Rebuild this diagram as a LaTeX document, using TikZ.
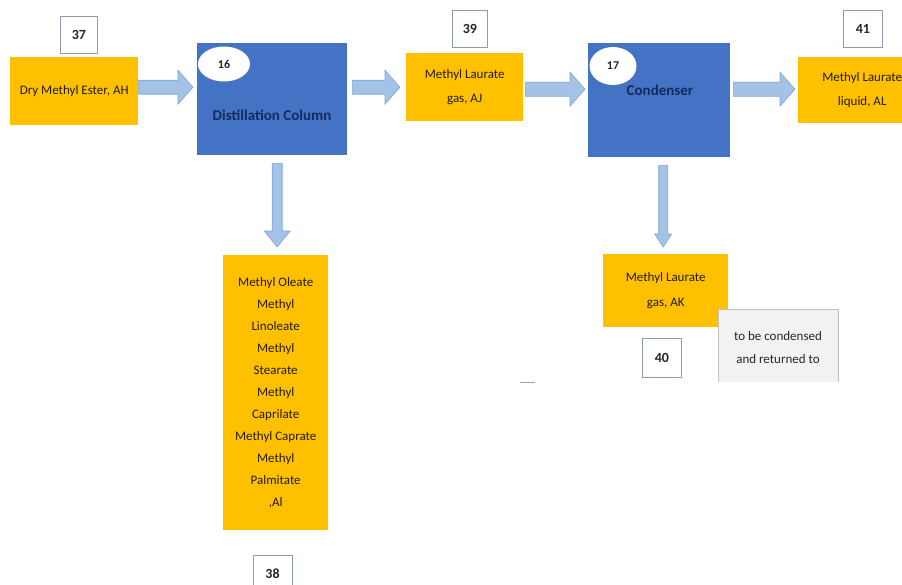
\documentclass[tikz,border=0pt]{standalone}
\usepackage{fontspec}
\setmainfont{Carlito}
\usetikzlibrary{calc,shapes.geometric}
\definecolor{orng}{HTML}{FFC000}
\definecolor{blu}{HTML}{4472C4}
\definecolor{navy}{HTML}{142B5C}
\definecolor{otext}{HTML}{241D00}
\definecolor{afill}{HTML}{A3C2E6}
\definecolor{aline}{HTML}{7FA6D6}
\definecolor{numline}{HTML}{8C9DB5}
\tikzset{
  obox/.style={fill=orng, draw=none, inner sep=0pt, anchor=north west, align=center,
    text=otext, font=\fontsize{13}{24}\selectfont},
  bbox/.style={fill=blu, draw=none, inner sep=0pt, anchor=north west},
  numbox/.style={fill=white, draw=numline, line width=0.8pt, inner sep=0pt, anchor=north west,
    minimum width=37pt, minimum height=37pt, font=\fontsize{14}{16}\selectfont\bfseries, text=black!85},
  bubble/.style={ellipse, fill=white, draw=none, inner sep=0pt, font=\fontsize{12}{14}\selectfont\bfseries, text=black!85},
  btext/.style={text=navy, font=\fontsize{15}{17}\selectfont\bfseries},
  blockarr/.style={fill=afill, draw=aline, line width=0.6pt, line join=miter},
}
\newcommand{\harrow}[2]{%
  \path[blockarr] let \p1=(#1), \p2=(#2) in
    (\x1,\y1+7pt) -- (\x2-15pt,\y1+7pt) -- (\x2-15pt,\y1+17pt) -- (\x2,\y1)
    -- (\x2-15pt,\y1-17pt) -- (\x2-15pt,\y1-7pt) -- (\x1,\y1-7pt) -- cycle;}
\newcommand{\varrow}[5]{%
  \path[blockarr] let \p1=(#1), \p2=(#2) in
    (\x1-#3,\y1) -- (\x1-#3,\y2+#5) -- (\x1-#4,\y2+#5) -- (\x1,\y2)
    -- (\x1+#4,\y2+#5) -- (\x1+#3,\y2+#5) -- (\x1+#3,\y1) -- cycle;}
\begin{document}
\begin{tikzpicture}[x=1pt,y=-1pt]
\useasboundingbox (0,0) rectangle (902,584);

% process units
\node[bbox, minimum width=150pt, minimum height=112pt] (dc) at (197,43) {};
\node[btext] (dctext) at (272,115) {Distillation Column};
\node[bubble, minimum width=52pt, minimum height=35pt] (e16) at (224,64) {16};

\node[bbox, minimum width=142pt, minimum height=114pt] (cd) at (588,43) {};
\node[btext] (cdtext) at (660,90) {Condenser};
\node[bubble, minimum width=47pt, minimum height=38pt] (e17) at (613,66) {17};

% streams
\node[obox, minimum width=128pt, minimum height=68pt] (ah) at (10,57) {Dry Methyl Ester, AH};
\node[numbox] (n37) at (60,16) {37};

\node[obox, minimum width=117pt, minimum height=68pt] (aj) at (406,53) {Methyl Laurate\\gas, AJ};
\node[numbox, minimum width=35pt] (n39) at (452,10) {39};

\node[obox, minimum width=128pt, minimum height=66pt] (al) at (798,57) {Methyl Laurate\\liquid, AL};
\node[numbox, minimum width=39pt] (n41) at (843,10) {41};

\node[obox, minimum width=105pt, minimum height=275pt, font=\fontsize{13}{22}\selectfont] (col) at (223,255)
  {Methyl Oleate\\Methyl\\Linoleate\\Methyl\\Stearate\\Methyl\\Caprilate\\Methyl Caprate\\Methyl\\Palmitate\\,Al};
\node[numbox, minimum width=39pt, minimum height=45pt] (n38) at (253,555) {};
\node[font=\fontsize{14}{16}\selectfont\bfseries, text=black!85] (n38t) at (272.5,574) {38};

\node[obox, minimum width=125pt, minimum height=73pt, font=\fontsize{13}{25}\selectfont] (ak) at (603,254) {Methyl Laurate\\gas, AK};
\node[numbox, minimum width=39pt, minimum height=39pt] (n40) at (642,338) {40};

% note
\fill[black!5] (718,309) rectangle (838,382);
\draw[black!25, line width=0.8pt] (718,382) -- (718,309) -- (838,309) -- (838,382);
\node[align=center, font=\fontsize{13}{23}\selectfont, text=black!85] (note) at (778,348) {to be condensed\\and returned to};

\draw[black!35, line width=0.8pt] (520,382) -- (535,382);

% connectors
\harrow{$(ah.east)+(0,-4)$}{$(dc.west)+(-4,0)$}
\harrow{$(dc.east)+(5,-12)$}{$(aj.west)+(-6,0)$}
\harrow{$(aj.east)+(2,2)$}{$(cd.west)+(-3,0)$}
\harrow{$(cd.east)+(3,-11)$}{$(al.west)+(-3,0)$}
\varrow{$(dc.south)+(5,8)$}{$(col.north)+(0,-8)$}{5pt}{13pt}{16pt}
\varrow{$(cd.south)+(4,8)$}{$(ak.north)+(0,-7)$}{4.5pt}{8.5pt}{13pt}
\end{tikzpicture}
\end{document}
